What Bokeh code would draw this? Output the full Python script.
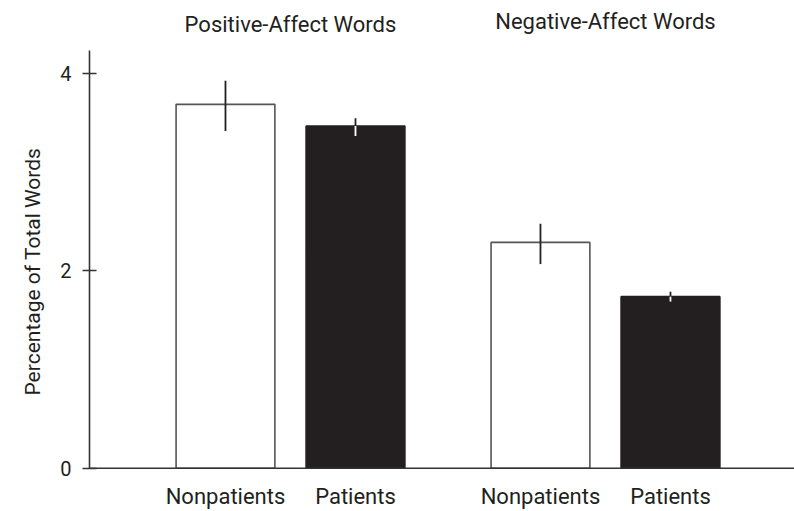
from bokeh.plotting import figure
from bokeh.models import ColumnDataSource, Range1d, FixedTicker, Span, Title
from bokeh.core.properties import value
from bokeh.embed import file_html
from bokeh.resources import INLINE

# ---- data ----
groups = ["Positive-Affect Words", "Negative-Affect Words"]
members = ["Nonpatients", "Patients"]
means = [3.69, 3.47, 2.29, 1.74]
err_low = [3.42, 3.37, 2.07, 1.69]
err_high = [3.93, 3.55, 2.48, 1.79]
y_ticks = [0, 2, 4]
y_label = "Percentage of Total Words"

# ---- layout / style ----
FONT = "Roboto"
TXT = "#231f20"
member_step = 1.0
group_step = 2.423
bar_w = 0.76
fills = {"Nonpatients": "#ffffff", "Patients": "#231f20"}
outlines = {"Nonpatients": "#555555", "Patients": "#231f20"}
lower_err_col = {"Nonpatients": "#231f20", "Patients": "#ffffff"}

xs, cats, fc, lc, lec = [], [], [], [], []
for g in range(len(groups)):
    for m, mem in enumerate(members):
        xs.append(g * group_step + m * member_step)
        cats.append(mem)
        fc.append(fills[mem])
        lc.append(outlines[mem])
        lec.append(lower_err_col[mem])

src = ColumnDataSource(dict(x=xs, top=means, lo=err_low, hi=err_high,
                            cat=cats, fc=fc, lc=lc, lec=lec))

p = figure(width=794, height=511, output_backend="svg", toolbar_location=None,
           x_range=Range1d(-1.046, 4.377), y_range=Range1d(-0.439, 4.743),
           min_border_left=89, min_border_right=0, min_border_top=0,
           min_border_bottom=0)
p.outline_line_color = None
p.grid.visible = False
p.xaxis.visible = False
p.background_fill_color = "white"
p.border_fill_color = "white"

p.vbar(x="x", top="top", bottom=0, width=bar_w, source=src,
       fill_color="fc", line_color="lc", line_width=1.6)
# error bars
p.segment(x0="x", x1="x", y0="top", y1="hi", source=src,
          line_color="#231f20", line_width=1.8)
p.segment(x0="x", x1="x", y0="lo", y1="top", source=src,
          line_color="lec", line_width=1.8)

# bottom axis line
p.add_layout(Span(location=0, dimension="width", line_color="#333333",
                  line_width=1.6))

# x category labels
p.text(x="x", y=0, text="cat", source=src, y_offset=16,
       text_align="center", text_baseline="top",
       text_font=value(FONT), text_font_size="22px", text_color=TXT)

# group titles
gx = [g * group_step + member_step / 2 for g in range(len(groups))]
p.text(x=gx, y=[4.24, 4.24], text=groups, y_offset=[-26, -29],
       text_align="center", text_baseline="alphabetic",
       text_font=value(FONT), text_font_size="22px", text_color=TXT)

ya = p.yaxis[0]
ya.bounds = (0, 4.24)
ya.ticker = FixedTicker(ticks=y_ticks)
ya.minor_tick_line_color = None
ya.major_tick_in = 7
ya.major_tick_out = 7
ya.axis_line_color = "#333333"
ya.axis_line_width = 1.6
ya.major_tick_line_color = "#333333"
ya.major_tick_line_width = 1.6
ya.major_label_standoff = 11
ya.major_label_text_font = FONT
ya.major_label_text_font_size = "20px"
ya.major_label_text_color = TXT

# y-axis title as a side title (lets it sit a little below frame middle)
p.add_layout(Title(text=y_label, align="left", offset=116, standoff=25,
                   text_font=FONT, text_font_size="21px",
                   text_font_style="normal", text_color=TXT), "left")

open("out.html", "w").write(file_html(p, INLINE))
